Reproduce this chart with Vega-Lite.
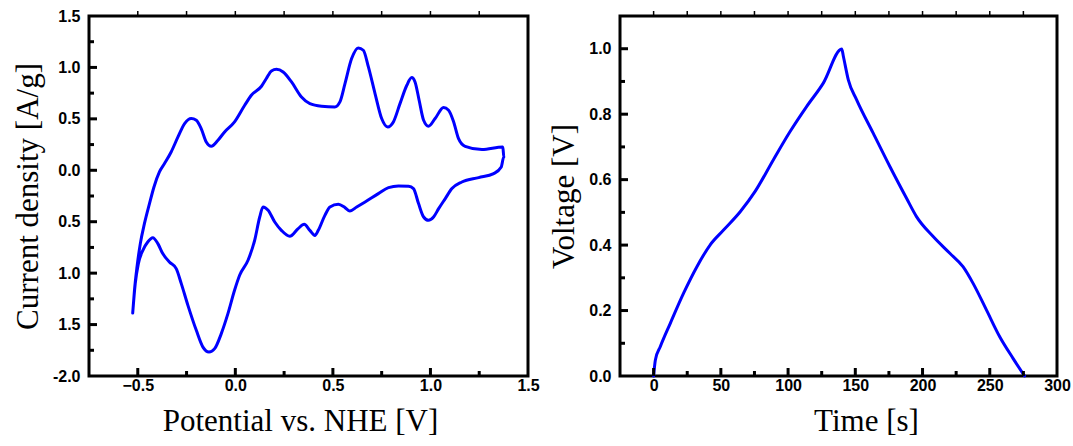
{
  "$schema": "https://vega.github.io/schema/vega-lite/v6.json",
  "padding": {"left": 10, "top": 6, "right": 0, "bottom": 0},
  "background": "white",
  "spacing": 6,
  "config": {
    "view": {"stroke": "black", "strokeWidth": 3},
    "axis": {
      "domain": false,
      "ticks": false,
      "grid": false,
      "zindex": 1,
      "labelFlush": false,
      "labelFont": "Liberation Sans",
      "labelFontWeight": "bold",
      "labelFontSize": 16,
      "labelColor": "black",
      "titleFont": "Liberation Serif",
      "titleFontWeight": "normal",
      "titleFontSize": 31,
      "titleColor": "black"
    },
    "tick": {"color": "black", "opacity": 1}
  },
  "datasets": {
    "cv": [
      {"i": 0, "potential": -0.526, "current": -1.388},
      {"i": 1, "potential": -0.517, "current": -1.167},
      {"i": 2, "potential": -0.504, "current": -0.94},
      {"i": 3, "potential": -0.487, "current": -0.713},
      {"i": 4, "potential": -0.466, "current": -0.519},
      {"i": 5, "potential": -0.44, "current": -0.324},
      {"i": 6, "potential": -0.417, "current": -0.162},
      {"i": 7, "potential": -0.389, "current": -0.016},
      {"i": 8, "potential": -0.363, "current": 0.065},
      {"i": 9, "potential": -0.329, "current": 0.178},
      {"i": 10, "potential": -0.294, "current": 0.324},
      {"i": 11, "potential": -0.26, "current": 0.454},
      {"i": 12, "potential": -0.226, "current": 0.503},
      {"i": 13, "potential": -0.2, "current": 0.486},
      {"i": 14, "potential": -0.175, "current": 0.405},
      {"i": 15, "potential": -0.149, "current": 0.275},
      {"i": 16, "potential": -0.123, "current": 0.233},
      {"i": 17, "potential": -0.089, "current": 0.292},
      {"i": 18, "potential": -0.055, "current": 0.373},
      {"i": 19, "potential": -0.004, "current": 0.47},
      {"i": 20, "potential": 0.048, "current": 0.632},
      {"i": 21, "potential": 0.082, "current": 0.73},
      {"i": 22, "potential": 0.134, "current": 0.817},
      {"i": 23, "potential": 0.159, "current": 0.892},
      {"i": 24, "potential": 0.185, "current": 0.966},
      {"i": 25, "potential": 0.211, "current": 0.982},
      {"i": 26, "potential": 0.245, "current": 0.956},
      {"i": 27, "potential": 0.288, "current": 0.859},
      {"i": 28, "potential": 0.339, "current": 0.713},
      {"i": 29, "potential": 0.382, "current": 0.648},
      {"i": 30, "potential": 0.442, "current": 0.623},
      {"i": 31, "potential": 0.51, "current": 0.616},
      {"i": 32, "potential": 0.536, "current": 0.665},
      {"i": 33, "potential": 0.562, "current": 0.843},
      {"i": 34, "potential": 0.596, "current": 1.086},
      {"i": 35, "potential": 0.63, "current": 1.19},
      {"i": 36, "potential": 0.656, "current": 1.167},
      {"i": 37, "potential": 0.682, "current": 1.005},
      {"i": 38, "potential": 0.716, "current": 0.746},
      {"i": 39, "potential": 0.75, "current": 0.503},
      {"i": 40, "potential": 0.781, "current": 0.421},
      {"i": 41, "potential": 0.81, "current": 0.47},
      {"i": 42, "potential": 0.844, "current": 0.648},
      {"i": 43, "potential": 0.879, "current": 0.827},
      {"i": 44, "potential": 0.904, "current": 0.901},
      {"i": 45, "potential": 0.921, "current": 0.859},
      {"i": 46, "potential": 0.942, "current": 0.681},
      {"i": 47, "potential": 0.965, "current": 0.486},
      {"i": 48, "potential": 0.99, "current": 0.428},
      {"i": 49, "potential": 1.024, "current": 0.503},
      {"i": 50, "potential": 1.067, "current": 0.61},
      {"i": 51, "potential": 1.093, "current": 0.584},
      {"i": 52, "potential": 1.119, "current": 0.47},
      {"i": 53, "potential": 1.144, "current": 0.308},
      {"i": 54, "potential": 1.178, "current": 0.233},
      {"i": 55, "potential": 1.264, "current": 0.201},
      {"i": 56, "potential": 1.371, "current": 0.227},
      {"i": 57, "potential": 1.376, "current": 0.13},
      {"i": 58, "potential": 1.363, "current": 0.032},
      {"i": 59, "potential": 1.324, "current": -0.032},
      {"i": 60, "potential": 1.247, "current": -0.071},
      {"i": 61, "potential": 1.161, "current": -0.114},
      {"i": 62, "potential": 1.11, "current": -0.178},
      {"i": 63, "potential": 1.076, "current": -0.275},
      {"i": 64, "potential": 1.042, "current": -0.373},
      {"i": 65, "potential": 1.016, "current": -0.454},
      {"i": 66, "potential": 0.99, "current": -0.486},
      {"i": 67, "potential": 0.965, "current": -0.454},
      {"i": 68, "potential": 0.939, "current": -0.324},
      {"i": 69, "potential": 0.913, "current": -0.178},
      {"i": 70, "potential": 0.888, "current": -0.156},
      {"i": 71, "potential": 0.836, "current": -0.152},
      {"i": 72, "potential": 0.785, "current": -0.168},
      {"i": 73, "potential": 0.733, "current": -0.227},
      {"i": 74, "potential": 0.665, "current": -0.308},
      {"i": 75, "potential": 0.622, "current": -0.357},
      {"i": 76, "potential": 0.587, "current": -0.396},
      {"i": 77, "potential": 0.562, "current": -0.363},
      {"i": 78, "potential": 0.528, "current": -0.331},
      {"i": 79, "potential": 0.485, "current": -0.357},
      {"i": 80, "potential": 0.459, "current": -0.438},
      {"i": 81, "potential": 0.425, "current": -0.584},
      {"i": 82, "potential": 0.408, "current": -0.633},
      {"i": 83, "potential": 0.382, "current": -0.584},
      {"i": 84, "potential": 0.353, "current": -0.525},
      {"i": 85, "potential": 0.322, "current": -0.567},
      {"i": 86, "potential": 0.279, "current": -0.642},
      {"i": 87, "potential": 0.236, "current": -0.584},
      {"i": 88, "potential": 0.202, "current": -0.503},
      {"i": 89, "potential": 0.168, "current": -0.389},
      {"i": 90, "potential": 0.142, "current": -0.357},
      {"i": 91, "potential": 0.125, "current": -0.454},
      {"i": 92, "potential": 0.099, "current": -0.681},
      {"i": 93, "potential": 0.065, "current": -0.875},
      {"i": 94, "potential": 0.022, "current": -1.021},
      {"i": 95, "potential": -0.004, "current": -1.167},
      {"i": 96, "potential": -0.038, "current": -1.394},
      {"i": 97, "potential": -0.072, "current": -1.588},
      {"i": 98, "potential": -0.106, "current": -1.734},
      {"i": 99, "potential": -0.135, "current": -1.767},
      {"i": 100, "potential": -0.166, "current": -1.719},
      {"i": 101, "potential": -0.2, "current": -1.556},
      {"i": 102, "potential": -0.243, "current": -1.313},
      {"i": 103, "potential": -0.277, "current": -1.102},
      {"i": 104, "potential": -0.303, "current": -0.956},
      {"i": 105, "potential": -0.338, "current": -0.892},
      {"i": 106, "potential": -0.372, "current": -0.81},
      {"i": 107, "potential": -0.397, "current": -0.713},
      {"i": 108, "potential": -0.423, "current": -0.655},
      {"i": 109, "potential": -0.449, "current": -0.697},
      {"i": 110, "potential": -0.474, "current": -0.778},
      {"i": 111, "potential": -0.497, "current": -0.908},
      {"i": 112, "potential": -0.513, "current": -1.102},
      {"i": 113, "potential": -0.526, "current": -1.388}
    ],
    "gcd": [
      {"i": 0, "time": 0, "voltage": 0},
      {"i": 1, "time": 1.3, "voltage": 0.049},
      {"i": 2, "time": 5, "voltage": 0.09},
      {"i": 3, "time": 12.4, "voltage": 0.161},
      {"i": 4, "time": 22.3, "voltage": 0.253},
      {"i": 5, "time": 32.2, "voltage": 0.334},
      {"i": 6, "time": 42.1, "voltage": 0.401},
      {"i": 7, "time": 52, "voltage": 0.446},
      {"i": 8, "time": 64.4, "voltage": 0.502},
      {"i": 9, "time": 75.5, "voltage": 0.564},
      {"i": 10, "time": 89.1, "voltage": 0.661},
      {"i": 11, "time": 101.5, "voltage": 0.747},
      {"i": 12, "time": 113.9, "voltage": 0.824},
      {"i": 13, "time": 126.2, "voltage": 0.895},
      {"i": 14, "time": 139.9, "voltage": 0.999},
      {"i": 15, "time": 141.1, "voltage": 0.977},
      {"i": 16, "time": 144.8, "voltage": 0.905},
      {"i": 17, "time": 151, "voltage": 0.844},
      {"i": 18, "time": 163.3, "voltage": 0.742},
      {"i": 19, "time": 175.7, "voltage": 0.64},
      {"i": 20, "time": 188.1, "voltage": 0.543},
      {"i": 21, "time": 195.5, "voltage": 0.487},
      {"i": 22, "time": 207.9, "voltage": 0.426},
      {"i": 23, "time": 220.3, "voltage": 0.375},
      {"i": 24, "time": 230.1, "voltage": 0.334},
      {"i": 25, "time": 237.6, "voltage": 0.283},
      {"i": 26, "time": 247.5, "voltage": 0.202},
      {"i": 27, "time": 257.4, "voltage": 0.12},
      {"i": 28, "time": 267.3, "voltage": 0.054},
      {"i": 29, "time": 275.9, "voltage": 0}
    ]
  },
  "hconcat": [
    {
      "width": 439,
      "height": 360,
      "layer": [
        {
          "data": {"name": "cv"},
          "mark": {"type": "line", "color": "#0000ff", "strokeWidth": 3, "strokeJoin": "round", "strokeCap": "round", "interpolate": "monotone"},
          "encoding": {
            "x": {
              "field": "potential", "type": "quantitative",
              "scale": {"domain": [-0.75, 1.5], "nice": false, "zero": false},
              "axis": {
                "title": "Potential vs. NHE [V]",
                "titleX": 211,
                "values": [-0.5, 0, 0.5, 1, 1.5],
                "format": ".1f",
                "labelPadding": 1,
                "titlePadding": 13
              }
            },
            "y": {
              "field": "current", "type": "quantitative",
              "scale": {"domain": [-2, 1.5], "nice": false, "zero": false},
              "axis": {
                "title": "Current density [A/g]",
                "values": [-2, -1.5, -1, -0.5, 0, 0.5, 1, 1.5],
                "labelExpr": "datum.value == -2 ? '-2.0' : format(abs(datum.value), '.1f')",
                "labelPadding": 9,
                "titlePadding": 8
              }
            },
            "order": {"field": "i", "type": "quantitative"}
          }
        },
        {
          "data": {"values": [{"v": -0.5}, {"v": 0}, {"v": 0.5}, {"v": 1}]},
          "mark": {"type": "tick", "orient": "vertical", "size": 8, "thickness": 3, "yOffset": -4},
          "encoding": {
            "x": {"field": "v", "type": "quantitative"},
            "y": {"datum": -2, "type": "quantitative"}
          }
        },
        {
          "data": {"values": [{"v": -0.25}, {"v": 0.25}, {"v": 0.75}, {"v": 1.25}]},
          "mark": {"type": "tick", "orient": "vertical", "size": 5, "thickness": 3, "yOffset": -2.5},
          "encoding": {
            "x": {"field": "v", "type": "quantitative"},
            "y": {"datum": -2, "type": "quantitative"}
          }
        },
        {
          "data": {"values": [{"v": -0.5}, {"v": -0.25}, {"v": 0}, {"v": 0.25}, {"v": 0.5}, {"v": 0.75}, {"v": 1}, {"v": 1.25}]},
          "mark": {"type": "tick", "orient": "vertical", "size": 5, "thickness": 1.5, "yOffset": -2.5},
          "encoding": {
            "x": {"field": "v", "type": "quantitative"},
            "y": {"datum": 1.5, "type": "quantitative"}
          }
        },
        {
          "data": {"values": [{"v": -1.5}, {"v": -1}, {"v": -0.5}, {"v": 0}, {"v": 0.5}, {"v": 1}]},
          "mark": {"type": "tick", "orient": "horizontal", "size": 8, "thickness": 3, "xOffset": 4},
          "encoding": {
            "x": {"datum": -0.75, "type": "quantitative"},
            "y": {"field": "v", "type": "quantitative"}
          }
        },
        {
          "data": {"values": [{"v": -1.75}, {"v": -1.25}, {"v": -0.75}, {"v": -0.25}, {"v": 0.25}, {"v": 0.75}, {"v": 1.25}]},
          "mark": {"type": "tick", "orient": "horizontal", "size": 5, "thickness": 3, "xOffset": 2.5},
          "encoding": {
            "x": {"datum": -0.75, "type": "quantitative"},
            "y": {"field": "v", "type": "quantitative"}
          }
        },
        {
          "mark": {"type": "text", "font": "Liberation Serif", "fontSize": 26, "color": "black", "align": "center", "baseline": "alphabetic", "text": "Scan rate: ν = 2 mV/s"},
          "encoding": {
            "x": {"datum": 0.771, "type": "quantitative"},
            "y": {"datum": -1.72, "type": "quantitative"}
          }
        }
      ]
    },
    {
      "width": 437,
      "height": 360,
      "layer": [
        {
          "data": {"name": "gcd"},
          "mark": {"type": "line", "color": "#0000ff", "strokeWidth": 3, "strokeJoin": "round", "strokeCap": "round", "interpolate": "monotone"},
          "encoding": {
            "x": {
              "field": "time", "type": "quantitative",
              "scale": {"domain": [-25, 300], "nice": false, "zero": false},
              "axis": {
                "title": "Time [s]",
                "titleX": 246,
                "values": [0, 50, 100, 150, 200, 250, 300],
                "format": "d",
                "labelPadding": 1,
                "titlePadding": 13
              }
            },
            "y": {
              "field": "voltage", "type": "quantitative",
              "scale": {"domain": [0, 1.1], "nice": false, "zero": false},
              "axis": {
                "title": "Voltage [V]",
                "values": [0, 0.2, 0.4, 0.6, 0.8, 1.0],
                "format": ".1f",
                "labelPadding": 9,
                "titlePadding": 8
              }
            },
            "order": {"field": "i", "type": "quantitative"}
          }
        },
        {
          "data": {"values": [{"v": 0}, {"v": 50}, {"v": 100}, {"v": 150}, {"v": 200}, {"v": 250}]},
          "mark": {"type": "tick", "orient": "vertical", "size": 8, "thickness": 3, "yOffset": -4},
          "encoding": {
            "x": {"field": "v", "type": "quantitative"},
            "y": {"datum": 0, "type": "quantitative"}
          }
        },
        {
          "data": {"values": [{"v": 25}, {"v": 75}, {"v": 125}, {"v": 175}, {"v": 225}, {"v": 275}]},
          "mark": {"type": "tick", "orient": "vertical", "size": 5, "thickness": 3, "yOffset": -2.5},
          "encoding": {
            "x": {"field": "v", "type": "quantitative"},
            "y": {"datum": 0, "type": "quantitative"}
          }
        },
        {
          "data": {"values": [{"v": 0}, {"v": 25}, {"v": 50}, {"v": 75}, {"v": 100}, {"v": 125}, {"v": 150}, {"v": 175}, {"v": 200}, {"v": 225}, {"v": 250}, {"v": 275}]},
          "mark": {"type": "tick", "orient": "vertical", "size": 5, "thickness": 1.5, "yOffset": -2.5},
          "encoding": {
            "x": {"field": "v", "type": "quantitative"},
            "y": {"datum": 1.1, "type": "quantitative"}
          }
        },
        {
          "data": {"values": [{"v": 0.2}, {"v": 0.4}, {"v": 0.6}, {"v": 0.8}, {"v": 1.0}]},
          "mark": {"type": "tick", "orient": "horizontal", "size": 8, "thickness": 3, "xOffset": 4},
          "encoding": {
            "x": {"datum": -25, "type": "quantitative"},
            "y": {"field": "v", "type": "quantitative"}
          }
        },
        {
          "data": {"values": [{"v": 0.1}, {"v": 0.3}, {"v": 0.5}, {"v": 0.7}, {"v": 0.9}]},
          "mark": {"type": "tick", "orient": "horizontal", "size": 5, "thickness": 3, "xOffset": 2.5},
          "encoding": {
            "x": {"datum": -25, "type": "quantitative"},
            "y": {"field": "v", "type": "quantitative"}
          }
        },
        {
          "mark": {"type": "text", "font": "Liberation Serif", "fontSize": 26, "color": "black", "align": "center", "baseline": "alphabetic", "text": "Current density: 1 A/g"},
          "encoding": {
            "x": {"datum": 139, "type": "quantitative"},
            "y": {"datum": 0.09, "type": "quantitative"}
          }
        }
      ]
    }
  ]
}
